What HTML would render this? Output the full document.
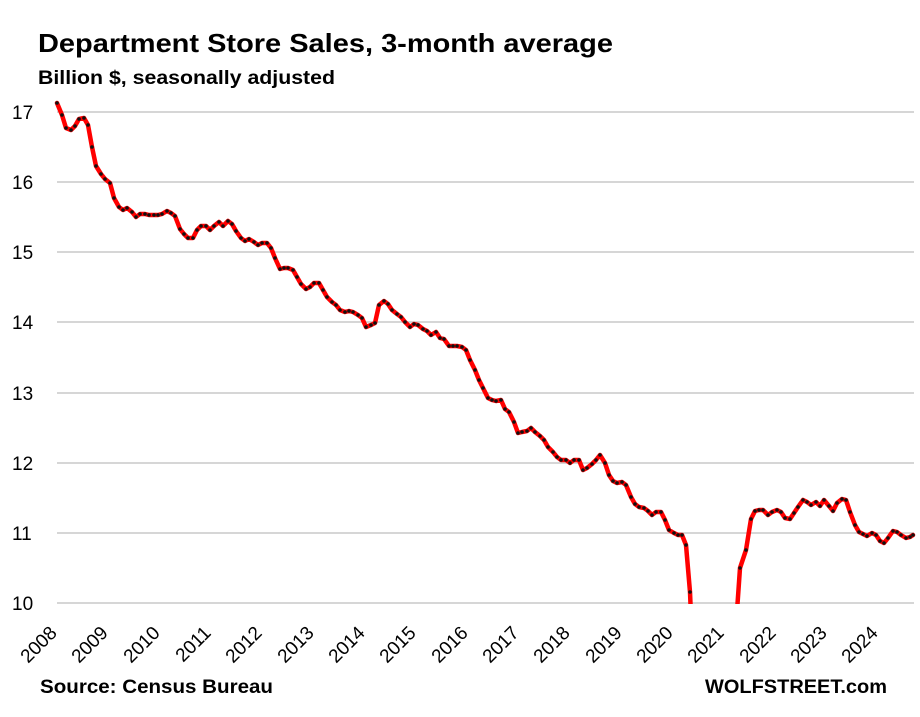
<!DOCTYPE html>
<html><head><meta charset="utf-8"><style>
html,body{margin:0;padding:0;background:#fff;}
svg{display:block;font-family:"Liberation Sans",sans-serif;}
.r{stroke:#ff0000;stroke-width:4.5;}
.d{stroke:none;marker-start:url(#m);marker-mid:url(#m);marker-end:url(#m);}
</style></head><body>
<svg width="920" height="717" viewBox="0 0 920 717" xmlns="http://www.w3.org/2000/svg">
<defs>
<marker id="m" markerUnits="userSpaceOnUse" markerWidth="6" markerHeight="6" refX="3" refY="3" viewBox="0 0 6 6"><circle cx="3" cy="3" r="1.8" fill="#111"/></marker>
<clipPath id="c"><rect x="0" y="90" width="920" height="514"/></clipPath>
</defs>
<rect width="920" height="717" fill="#fff"/>
<text x="38" y="52" font-size="26" font-weight="bold" textLength="575" lengthAdjust="spacingAndGlyphs">Department Store Sales, 3-month average</text>
<text x="38" y="84" font-size="19" font-weight="bold" textLength="297" lengthAdjust="spacingAndGlyphs">Billion $, seasonally adjusted</text>
<g stroke="#c8c8c8" stroke-width="1.5">
<line x1="57" x2="914" y1="112" y2="112"/><line x1="57" x2="914" y1="182" y2="182"/>
<line x1="57" x2="914" y1="252" y2="252"/><line x1="57" x2="914" y1="322" y2="322"/>
<line x1="57" x2="914" y1="393" y2="393"/><line x1="57" x2="914" y1="463" y2="463"/>
<line x1="57" x2="914" y1="533" y2="533"/><line x1="57" x2="914" y1="603" y2="603"/>
</g>
<g font-size="19" fill="#000">
<text x="12" y="119">17</text><text x="12" y="189">16</text><text x="12" y="259">15</text><text x="12" y="329">14</text>
<text x="12" y="400">13</text><text x="12" y="470">12</text><text x="12" y="540">11</text><text x="12" y="610">10</text>
</g>
<g font-size="19" fill="#000" text-anchor="end">
<text transform="translate(58,634) rotate(-45)">2008</text>
<text transform="translate(109,634) rotate(-45)">2009</text>
<text transform="translate(161,634) rotate(-45)">2010</text>
<text transform="translate(212,634) rotate(-45)">2011</text>
<text transform="translate(263,634) rotate(-45)">2012</text>
<text transform="translate(315,634) rotate(-45)">2013</text>
<text transform="translate(366,634) rotate(-45)">2014</text>
<text transform="translate(417,634) rotate(-45)">2015</text>
<text transform="translate(469,634) rotate(-45)">2016</text>
<text transform="translate(520,634) rotate(-45)">2017</text>
<text transform="translate(571,634) rotate(-45)">2018</text>
<text transform="translate(623,634) rotate(-45)">2019</text>
<text transform="translate(674,634) rotate(-45)">2020</text>
<text transform="translate(725,634) rotate(-45)">2021</text>
<text transform="translate(777,634) rotate(-45)">2022</text>
<text transform="translate(828,634) rotate(-45)">2023</text>
<text transform="translate(879,634) rotate(-45)">2024</text>
</g>
<text x="40" y="693" font-size="19" font-weight="bold" textLength="233" lengthAdjust="spacingAndGlyphs">Source: Census Bureau</text>
<text x="705" y="693" font-size="19" font-weight="bold" textLength="182" lengthAdjust="spacingAndGlyphs">WOLFSTREET.com</text>
<g clip-path="url(#c)" fill="none" stroke-linejoin="round" stroke-linecap="round">
<polyline class="r" points="57,103 62,115 66,128 71,130 75,126 79,119 84,118 88,125 92,147 96,166 101,174 105,179 110,183 114,198 119,207 123,210 127,208 132,212 136,217 140,214 145,214 149,215 154,215 158,215 162,214 167,211 171,213 175,216 180,229 184,234 188,238 193,238 197,230 201,226 206,226 210,230 214,226 219,222 223,226 228,221 232,224 236,231 241,238 245,241 249,239 254,242 258,245 262,243 267,243 271,248 275,258 280,269 284,268 288,268 293,270 297,277 301,284 306,289 310,287 314,283 319,283 323,290 327,297 332,302 336,305 340,310 345,312 349,311 353,312 358,315 362,318 366,327 371,325 375,323 379,305 384,301 388,304 392,310 397,314 401,317 405,322 410,327 414,324 418,325 423,329 427,331 431,335 436,332 440,338 444,339 449,346 453,346 457,346 462,347 466,350 470,360 475,370 479,380 483,388 488,398 492,400 496,401 501,400 505,409 509,412 514,422 518,433 522,432 527,431 531,428 535,432 540,436 544,440 548,447 553,452 557,457 561,460 566,460 570,463 574,460 579,460 583,470 587,468 592,464 596,460 600,455 605,463 609,475 613,481 617,483 622,482 626,485 631,497 635,504 639,507 644,508 648,511 652,515 656,512 661,512 665,520 669,530 674,533 678,535 682,535 686,545 690,592 692,640"/>
<polyline class="r" points="735,640 740,568 746,550 751,519 755,511 759,510 763,510 768,515 772,512 777,510 781,512 785,518 790,519 794,513 798,507 803,500 807,502 811,505 816,502 820,506 824,500 829,506 833,511 837,503 842,499 846,500 850,512 855,525 859,532 863,534 867,536 872,533 876,535 880,541 884,543 888,538 893,531 897,532 901,535 906,538 910,537 913,535"/>
<polyline class="d" points="57,103 62,115 66,128 71,130 75,126 79,119 84,118 88,125 92,147 96,166 101,174 105,179 110,183 114,198 119,207 123,210 127,208 132,212 136,217 140,214 145,214 149,215 154,215 158,215 162,214 167,211 171,213 175,216 180,229 184,234 188,238 193,238 197,230 201,226 206,226 210,230 214,226 219,222 223,226 228,221 232,224 236,231 241,238 245,241 249,239 254,242 258,245 262,243 267,243 271,248 275,258 280,269 284,268 288,268 293,270 297,277 301,284 306,289 310,287 314,283 319,283 323,290 327,297 332,302 336,305 340,310 345,312 349,311 353,312 358,315 362,318 366,327 371,325 375,323 379,305 384,301 388,304 392,310 397,314 401,317 405,322 410,327 414,324 418,325 423,329 427,331 431,335 436,332 440,338 444,339 449,346 453,346 457,346 462,347 466,350 470,360 475,370 479,380 483,388 488,398 492,400 496,401 501,400 505,409 509,412 514,422 518,433 522,432 527,431 531,428 535,432 540,436 544,440 548,447 553,452 557,457 561,460 566,460 570,463 574,460 579,460 583,470 587,468 592,464 596,460 600,455 605,463 609,475 613,481 617,483 622,482 626,485 631,497 635,504 639,507 644,508 648,511 652,515 656,512 661,512 665,520 669,530 674,533 678,535 682,535 686,545 690,592"/>
<polyline class="d" points="740,568 746,550 751,519 755,511 759,510 763,510 768,515 772,512 777,510 781,512 785,518 790,519 794,513 798,507 803,500 807,502 811,505 816,502 820,506 824,500 829,506 833,511 837,503 842,499 846,500 850,512 855,525 859,532 863,534 867,536 872,533 876,535 880,541 884,543 888,538 893,531 897,532 901,535 906,538 910,537 913,535"/>
</g>
</svg>
</body></html>
